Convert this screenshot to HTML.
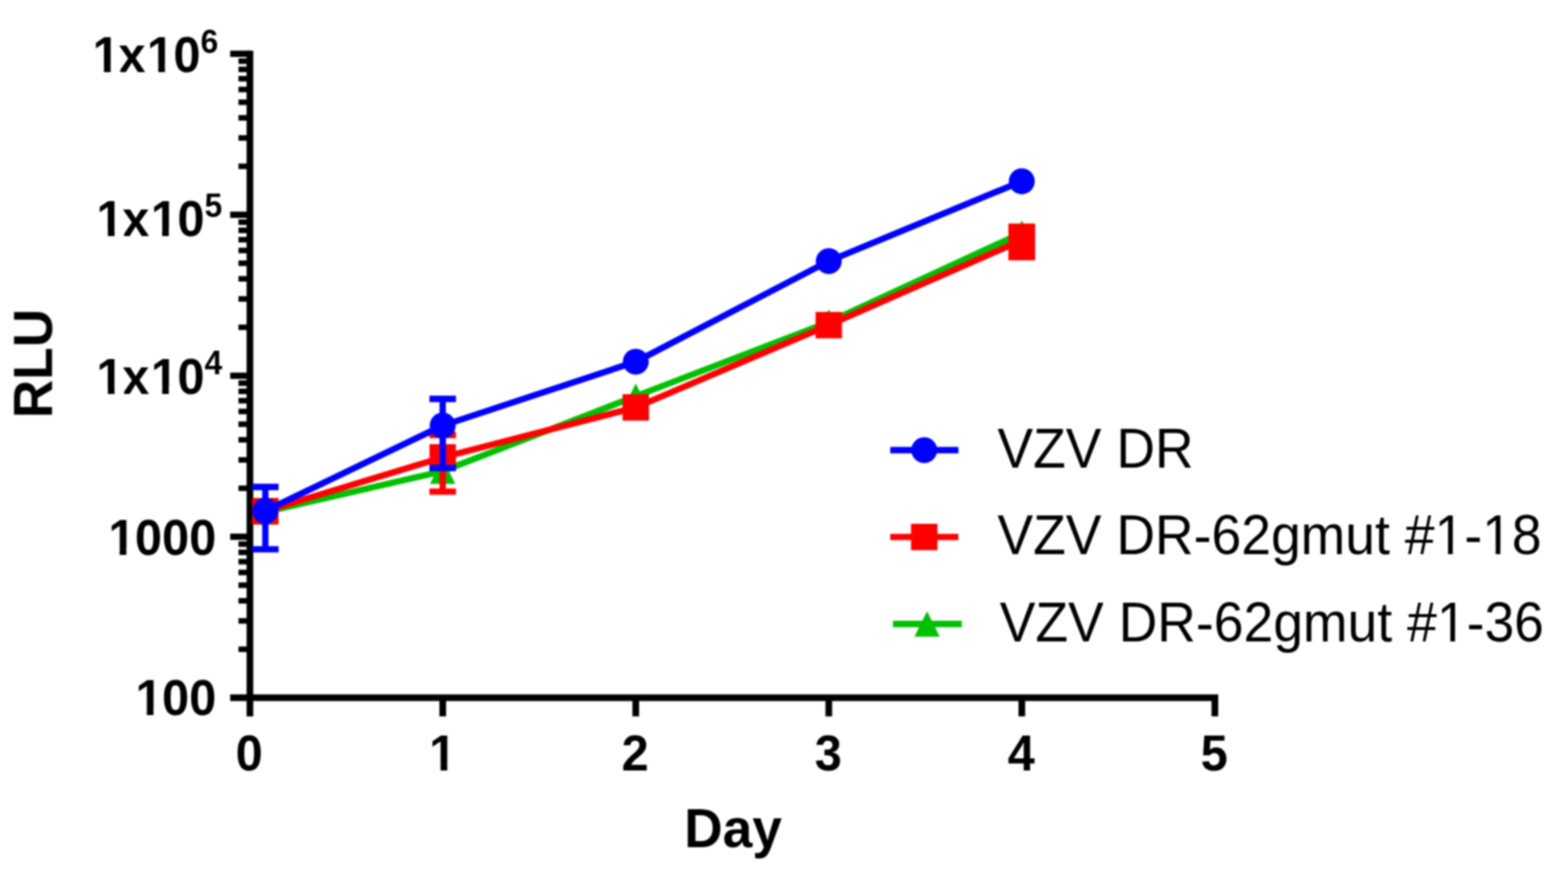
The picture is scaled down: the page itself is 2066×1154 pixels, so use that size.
<!DOCTYPE html>
<html lang="en"><head><meta charset="utf-8"><title>RLU vs Day</title>
<style>html,body{margin:0;padding:0;background:#fff;}body{width:2066px;height:1154px;overflow:hidden;}svg{display:block;}text{font-kerning:none;font-family:"Liberation Sans",sans-serif;fill:#000;}.b{font-weight:bold;}</style>
</head><body>
<svg width="2066" height="1154" viewBox="0 0 2066 1154">
<rect width="2066" height="1154" fill="#fff"/>
<defs><filter id="soft" x="0" y="0" width="2066" height="1154" filterUnits="userSpaceOnUse" color-interpolation-filters="sRGB"><feGaussianBlur stdDeviation="1.1"/></filter></defs>
<g filter="url(#soft)">
<g stroke="#000" stroke-width="8.8" fill="none" stroke-linecap="butt">
<line x1="329.3" y1="66.7" x2="329.3" y2="943.7"/>
<line x1="303.3" y1="919.15" x2="1605.1" y2="919.15"/>
<line x1="303.3" y1="70.85" x2="329.3" y2="70.85" stroke-width="8.3"/>
<line x1="314.2" y1="219.08" x2="329.3" y2="219.08" stroke-width="7.3"/>
<line x1="314.2" y1="181.74" x2="329.3" y2="181.74" stroke-width="7.3"/>
<line x1="314.2" y1="155.24" x2="329.3" y2="155.24" stroke-width="7.3"/>
<line x1="314.2" y1="134.69" x2="329.3" y2="134.69" stroke-width="7.3"/>
<line x1="314.2" y1="117.9" x2="329.3" y2="117.9" stroke-width="7.3"/>
<line x1="314.2" y1="103.7" x2="329.3" y2="103.7" stroke-width="7.3"/>
<line x1="314.2" y1="91.4" x2="329.3" y2="91.4" stroke-width="7.3"/>
<line x1="314.2" y1="80.55" x2="329.3" y2="80.55" stroke-width="7.3"/>
<line x1="303.3" y1="282.92" x2="329.3" y2="282.92" stroke-width="8.3"/>
<line x1="314.2" y1="431.16" x2="329.3" y2="431.16" stroke-width="7.3"/>
<line x1="314.2" y1="393.81" x2="329.3" y2="393.81" stroke-width="7.3"/>
<line x1="314.2" y1="367.32" x2="329.3" y2="367.32" stroke-width="7.3"/>
<line x1="314.2" y1="346.77" x2="329.3" y2="346.77" stroke-width="7.3"/>
<line x1="314.2" y1="329.97" x2="329.3" y2="329.97" stroke-width="7.3"/>
<line x1="314.2" y1="315.78" x2="329.3" y2="315.78" stroke-width="7.3"/>
<line x1="314.2" y1="303.48" x2="329.3" y2="303.48" stroke-width="7.3"/>
<line x1="314.2" y1="292.63" x2="329.3" y2="292.63" stroke-width="7.3"/>
<line x1="303.3" y1="495" x2="329.3" y2="495" stroke-width="8.3"/>
<line x1="314.2" y1="643.23" x2="329.3" y2="643.23" stroke-width="7.3"/>
<line x1="314.2" y1="605.89" x2="329.3" y2="605.89" stroke-width="7.3"/>
<line x1="314.2" y1="579.39" x2="329.3" y2="579.39" stroke-width="7.3"/>
<line x1="314.2" y1="558.84" x2="329.3" y2="558.84" stroke-width="7.3"/>
<line x1="314.2" y1="542.05" x2="329.3" y2="542.05" stroke-width="7.3"/>
<line x1="314.2" y1="527.85" x2="329.3" y2="527.85" stroke-width="7.3"/>
<line x1="314.2" y1="515.55" x2="329.3" y2="515.55" stroke-width="7.3"/>
<line x1="314.2" y1="504.7" x2="329.3" y2="504.7" stroke-width="7.3"/>
<line x1="303.3" y1="707.07" x2="329.3" y2="707.07" stroke-width="8.3"/>
<line x1="314.2" y1="855.31" x2="329.3" y2="855.31" stroke-width="7.3"/>
<line x1="314.2" y1="817.96" x2="329.3" y2="817.96" stroke-width="7.3"/>
<line x1="314.2" y1="791.47" x2="329.3" y2="791.47" stroke-width="7.3"/>
<line x1="314.2" y1="770.92" x2="329.3" y2="770.92" stroke-width="7.3"/>
<line x1="314.2" y1="754.12" x2="329.3" y2="754.12" stroke-width="7.3"/>
<line x1="314.2" y1="739.93" x2="329.3" y2="739.93" stroke-width="7.3"/>
<line x1="314.2" y1="727.63" x2="329.3" y2="727.63" stroke-width="7.3"/>
<line x1="314.2" y1="716.78" x2="329.3" y2="716.78" stroke-width="7.3"/>
<line x1="583.34" y1="919.15" x2="583.34" y2="943.7"/>
<line x1="837.68" y1="919.15" x2="837.68" y2="943.7"/>
<line x1="1092.02" y1="919.15" x2="1092.02" y2="943.7"/>
<line x1="1346.36" y1="919.15" x2="1346.36" y2="943.7"/>
<line x1="1600.7" y1="919.15" x2="1600.7" y2="943.7"/>
</g>
<g>
<polyline points="349.6,674.5 583.3,620.7 837.7,522 1092,424.3 1346.3,306.9" fill="none" stroke="#00c000" stroke-width="8.3" stroke-linejoin="round"/>
<polygon points="349.6,657.8 366.3,691.2 332.9,691.2" fill="#00c000"/>
<polygon points="583.3,604 600,637.4 566.6,637.4" fill="#00c000"/>
<polygon points="837.7,505.3 854.4,538.7 821,538.7" fill="#00c000"/>
<polygon points="1092,407.6 1108.7,441 1075.3,441" fill="#00c000"/>
<polygon points="1346.3,290.2 1363,323.6 1329.6,323.6" fill="#00c000"/>
</g>
<g>
<polyline points="349.6,673.4 583.3,602.5 837.7,536.7 1092,428.3 1346.3,316.4" fill="none" stroke="#ff0000" stroke-width="8.3" stroke-linejoin="round"/>
<rect x="332.2" y="656" width="34.8" height="34.8" fill="#ff0000"/>
<g stroke="#ff0000" stroke-width="8.3">
<line x1="583.3" y1="573" x2="583.3" y2="647.6"/>
<line x1="565.8" y1="573" x2="600.8" y2="573"/>
<line x1="565.8" y1="647.6" x2="600.8" y2="647.6"/>
</g>
<rect x="565.9" y="585.1" width="34.8" height="34.8" fill="#ff0000"/>
<rect x="820.3" y="519.3" width="34.8" height="34.8" fill="#ff0000"/>
<rect x="1074.6" y="410.9" width="34.8" height="34.8" fill="#ff0000"/>
<g stroke="#ff0000" stroke-width="8.3">
<line x1="1346.3" y1="298.8" x2="1346.3" y2="338.6"/>
<line x1="1328.8" y1="298.8" x2="1363.8" y2="298.8"/>
<line x1="1328.8" y1="338.6" x2="1363.8" y2="338.6"/>
</g>
<rect x="1328.8" y="294.65" width="35" height="48.1" fill="#ff0000"/>
<rect x="1328.9" y="299" width="34.8" height="34.8" fill="#ff0000"/>
</g>
<g>
<polyline points="349.6,673.1 583.3,560.6 837.7,476.5 1092,344 1346.3,238.8" fill="none" stroke="#0000ff" stroke-width="8.3" stroke-linejoin="round"/>
<g stroke="#0000ff" stroke-width="8.3">
<line x1="349.6" y1="641.5" x2="349.6" y2="723.7"/>
<line x1="332.1" y1="641.5" x2="367.1" y2="641.5"/>
<line x1="332.1" y1="723.7" x2="367.1" y2="723.7"/>
</g>
<circle cx="349.6" cy="673.1" r="17.1" fill="#0000ff"/>
<g stroke="#0000ff" stroke-width="8.3">
<line x1="583.3" y1="525.5" x2="583.3" y2="616.5"/>
<line x1="565.8" y1="525.5" x2="600.8" y2="525.5"/>
<line x1="565.8" y1="616.5" x2="600.8" y2="616.5"/>
</g>
<circle cx="583.3" cy="560.6" r="17.1" fill="#0000ff"/>
<circle cx="837.7" cy="476.5" r="17.1" fill="#0000ff"/>
<circle cx="1092" cy="344" r="17.1" fill="#0000ff"/>
<circle cx="1346.3" cy="238.8" r="17.1" fill="#0000ff"/>
</g>
<line x1="1173" y1="593" x2="1262.8" y2="593" stroke="#0000ff" stroke-width="8.3"/>
<circle cx="1217.8" cy="593" r="17.1" fill="#0000ff"/>
<g transform="translate(1314.2 615.5) scale(0.961 1)">
<text x="0" font-size="73.37">VZV DR</text>
</g>
<line x1="1173" y1="707.4" x2="1262.8" y2="707.4" stroke="#ff0000" stroke-width="8.3"/>
<rect x="1200.4" y="690" width="34.8" height="34.8" fill="#ff0000"/>
<g transform="translate(1314.2 729.5) scale(0.961 1)">
<text x="0" font-size="73.37" dy="0 0 0 0 0 0 1.8 -1.8 0 0 0 0 0 0 0 0 1.8 -1.8 0">VZV DR-62gmut #1-18</text>
<rect x="602.47" y="-6.98" width="15.36" height="9.98" fill="#fff"/>
<rect x="624.32" y="-6.98" width="14.79" height="9.98" fill="#fff"/>
<rect x="667.71" y="-6.98" width="15.36" height="9.98" fill="#fff"/>
<rect x="689.56" y="-6.98" width="14.79" height="9.98" fill="#fff"/>
</g>
<line x1="1176.5" y1="822" x2="1267.3" y2="822" stroke="#00c000" stroke-width="8.3"/>
<polygon points="1221.5,805.3 1238.2,838.7 1204.8,838.7" fill="#00c000"/>
<g transform="translate(1317.2 844.5) scale(0.961 1)">
<text x="0" font-size="73.37" dy="0 0 0 0 0 0 1.8 -1.8 0 0 0 0 0 0 0 0 1.8 -1.8 0">VZV DR-62gmut #1-36</text>
<rect x="602.47" y="-6.98" width="15.36" height="9.98" fill="#fff"/>
<rect x="624.32" y="-6.98" width="14.79" height="9.98" fill="#fff"/>
</g>
<g transform="translate(287.7 94.8) scale(0.961 1)">
<text class="b" x="-173.17" font-size="66.92" dx="0.75 -1.85 1.85 -0.75 0">1x10<tspan font-size="43.71" dy="-25.3">6</tspan></text>
<rect x="-170.71" y="-8.33" width="13.9" height="11.33" fill="#fff"/>
<rect x="-147.62" y="-8.33" width="13.05" height="11.33" fill="#fff"/>
<rect x="-96.28" y="-8.33" width="13.9" height="11.33" fill="#fff"/>
<rect x="-73.19" y="-8.33" width="13.05" height="11.33" fill="#fff"/>
</g>
<g transform="translate(292.8 311.2) scale(0.961 1)">
<text class="b" x="-173.17" font-size="66.92" dx="0.75 -1.85 1.85 -0.75 0">1x10<tspan font-size="43.71" dy="-25.3">5</tspan></text>
<rect x="-170.71" y="-8.33" width="13.9" height="11.33" fill="#fff"/>
<rect x="-147.62" y="-8.33" width="13.05" height="11.33" fill="#fff"/>
<rect x="-96.28" y="-8.33" width="13.9" height="11.33" fill="#fff"/>
<rect x="-73.19" y="-8.33" width="13.05" height="11.33" fill="#fff"/>
</g>
<g transform="translate(292.8 518.7) scale(0.961 1)">
<text class="b" x="-173.17" font-size="66.92" dx="0.75 -1.85 1.85 -0.75 0">1x10<tspan font-size="43.71" dy="-25.3">4</tspan></text>
<rect x="-170.71" y="-8.33" width="13.9" height="11.33" fill="#fff"/>
<rect x="-147.62" y="-8.33" width="13.05" height="11.33" fill="#fff"/>
<rect x="-96.28" y="-8.33" width="13.9" height="11.33" fill="#fff"/>
<rect x="-73.19" y="-8.33" width="13.05" height="11.33" fill="#fff"/>
</g>
<g transform="translate(285 730.7) scale(0.961 1)">
<text class="b" x="-148.86" font-size="66.92" dx="0.75 -0.75 0 0">1000</text>
<rect x="-146.4" y="-8.33" width="13.9" height="11.33" fill="#fff"/>
<rect x="-123.31" y="-8.33" width="13.05" height="11.33" fill="#fff"/>
</g>
<g transform="translate(285 942.3) scale(0.961 1)">
<text class="b" x="-111.65" font-size="66.92" dx="0.75 -0.75 0">100</text>
<rect x="-109.18" y="-8.33" width="13.9" height="11.33" fill="#fff"/>
<rect x="-86.1" y="-8.33" width="13.05" height="11.33" fill="#fff"/>
</g>
<g transform="translate(328.3 1015.4) scale(0.961 1)">
<text class="b" x="-18.61" font-size="66.92">0</text>
</g>
<g transform="translate(582.64 1015.4) scale(0.961 1)">
<text class="b" x="-18.61" font-size="66.92" dx="0.75">1</text>
<rect x="-16.14" y="-8.33" width="13.9" height="11.33" fill="#fff"/>
<rect x="6.94" y="-8.33" width="13.05" height="11.33" fill="#fff"/>
</g>
<g transform="translate(836.98 1015.4) scale(0.961 1)">
<text class="b" x="-18.61" font-size="66.92">2</text>
</g>
<g transform="translate(1091.32 1015.4) scale(0.961 1)">
<text class="b" x="-18.61" font-size="66.92">3</text>
</g>
<g transform="translate(1345.66 1015.4) scale(0.961 1)">
<text class="b" x="-18.61" font-size="66.92">4</text>
</g>
<g transform="translate(1600 1015.4) scale(0.961 1)">
<text class="b" x="-18.61" font-size="66.92">5</text>
</g>
<g transform="translate(966 1115.6) scale(0.961 1)">
<text class="b" x="-67.01" font-size="73.06">Day</text>
</g>
<g transform="translate(68.5 478.9) rotate(-90) scale(0.961 1)">
<text class="b" x="-75.07" font-size="73.06">RLU</text>
</g>
</g>
</svg>
</body></html>
